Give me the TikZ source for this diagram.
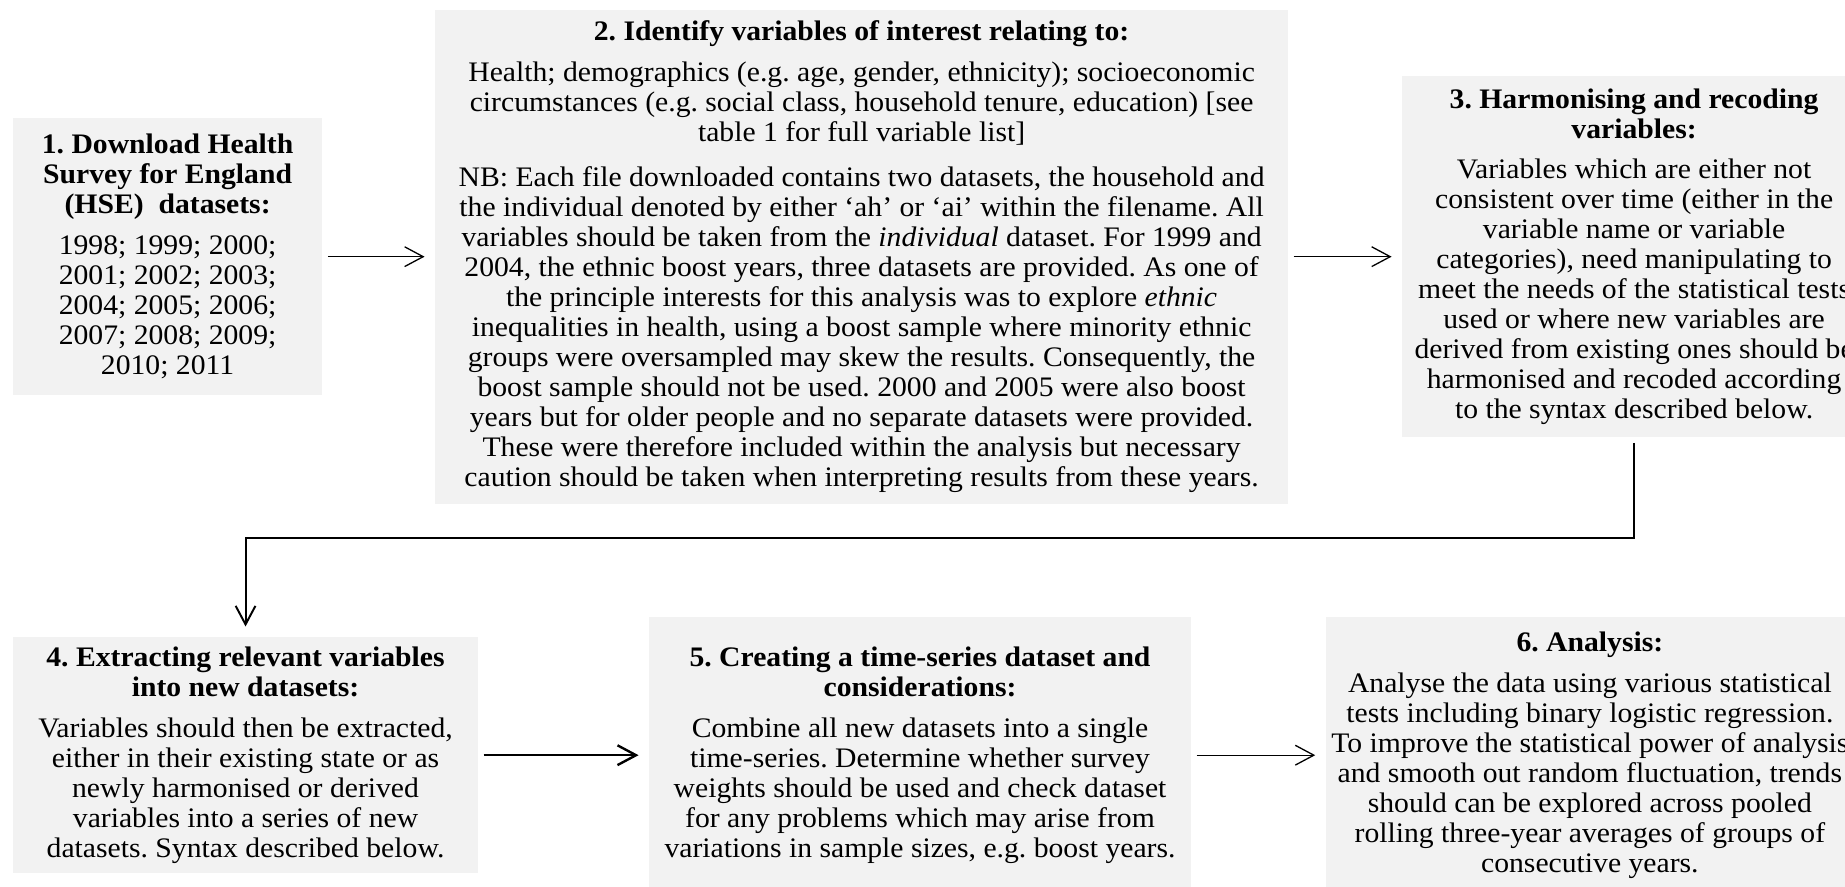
\documentclass[tikz,border=0pt]{standalone}
\usepackage{fontspec}
\setmainfont{Liberation Serif}[FakeStretch=1.05]
\usetikzlibrary{arrows.meta}
\definecolor{boxgray}{RGB}{242,242,242}
\frenchspacing

\begin{document}
\begin{tikzpicture}[line width = 0.6pt, >={Straight Barb[length=0.3cm, width=0.32cm]},
  font = \fontsize{13pt}{13.8pt}\selectfont,
  stage/.style = {rectangle, fill=boxgray, align=center, inner sep=0pt},
  flow/.style = {->, shorten <= 0.08cm, shorten >= 0.16cm}]

  \useasboundingbox (0,0) rectangle (29.83,-14.325);

  \node[stage, minimum width = 5cm, minimum height = 4.48cm] at (2.71,-4.15) (download)
  {\textbf{1. Download Health}\\ \textbf{Survey for England}\\ \textbf{(HSE)\ \ datasets:}\\[5pt]
   1998; 1999; 2000;\\ 2001; 2002; 2003;\\ 2004; 2005; 2006;\\ 2007; 2008; 2009;\\ 2010; 2011};

  \node[stage, right of = download, node distance = 11.22cm, minimum width = 13.79cm, minimum height = 7.99cm]
  (identify)
  {\textbf{2. Identify variables of interest relating to:}\\[5pt]
   Health; demographics (e.g. age, gender, ethnicity); socioeconomic\\
   circumstances (e.g. social class, household tenure, education) [see\\
   table 1 for full variable list]\\[7pt]
   NB: Each file downloaded contains two datasets, the household and\\
   the individual denoted by either ‘ah’ or ‘ai’ within the filename. All\\
   variables should be taken from the \textit{individual} dataset. For 1999 and\\
   2004, the ethnic boost years, three datasets are provided. As one of\\
   the principle interests for this analysis was to explore \textit{ethnic}\\
   inequalities in health, using a boost sample where minority ethnic\\
   groups were oversampled may skew the results. Consequently, the\\
   boost sample should not be used. 2000 and 2005 were also boost\\
   years but for older people and no separate datasets were provided.\\
   These were therefore included within the analysis but necessary\\
   caution should be taken when interpreting results from these years.};

  \node[stage, right of = identify, node distance = 12.49cm, minimum width = 7.5cm, minimum height = 5.84cm]
  (harmonise)
  {\textbf{3. Harmonising and recoding}\\ \textbf{variables:}\\[5pt]
   Variables which are either not\\ consistent over time (either in the\\
   variable name or variable\\ categories), need manipulating to\\
   meet the needs of the statistical tests\\ used or where new variables are\\
   derived from existing ones should be\\ harmonised and recoded according\\
   to the syntax described below.};

  \node[stage, below of = download, node distance = 8.06cm, xshift = 1.26cm,
        minimum width = 7.52cm, minimum height = 3.82cm] (extract)
  {\textbf{4. Extracting relevant variables}\\ \textbf{into new datasets:}\\[5pt]
   Variables should then be extracted,\\ either in their existing state or as\\
   newly harmonised or derived\\ variables into a series of new\\
   datasets. Syntax described below.};

  \node[stage, right of = extract, node distance = 10.905cm, minimum width = 8.76cm, minimum height = 4.46cm]
  (combine)
  {\textbf{5. Creating a time-series dataset and}\\ \textbf{considerations:}\\[5pt]
   Combine all new datasets into a single\\ time-series. Determine whether survey\\
   weights should be used and check dataset\\ for any problems which may arise from\\
   variations in sample sizes, e.g. boost years.};

  \node[stage, right of = combine, node distance = 10.83cm, minimum width = 8.54cm, minimum height = 4.46cm]
  (analyse)
  {\textbf{6. Analysis:}\\[5pt]
   Analyse the data using various statistical\\ tests including binary logistic regression.\\
   To improve the statistical power of analysis\\ and smooth out random fluctuation, trends\\
   should can be explored across pooled\\ rolling three-year averages of groups of\\
   consecutive years.};

  \draw[flow] (download.east) -- (identify.west);
  \draw[flow] (identify.east) -- (harmonise.west);
  \draw[flow, line width = 0.9pt] (harmonise.south) -- ++(0,-1.62) -| (extract.north);
  \draw[flow, line width = 1.1pt] (extract.east) -- (combine.west);
  \draw[flow] (combine.east) -- (analyse.west);

\end{tikzpicture}
\end{document}
